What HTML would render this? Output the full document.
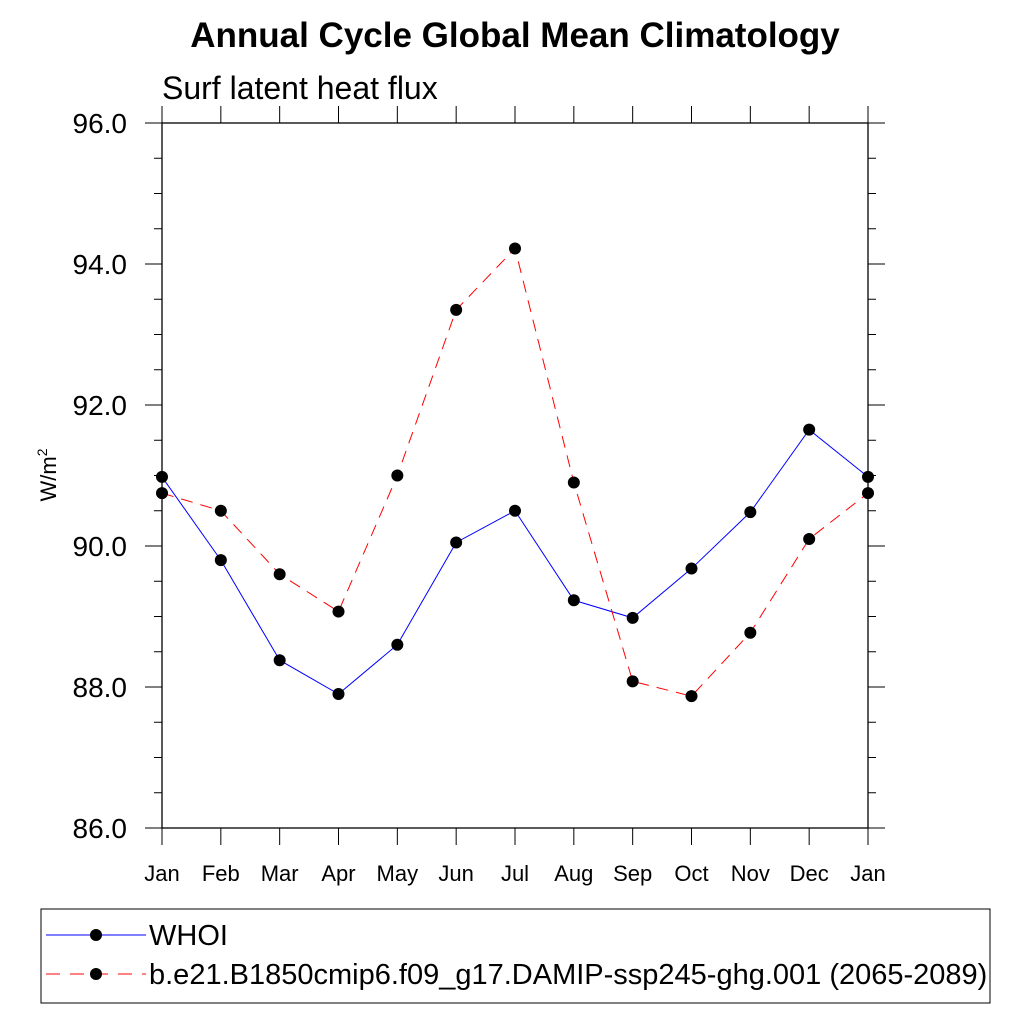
<!DOCTYPE html>
<html><head><meta charset="utf-8"><style>
html,body{margin:0;padding:0;background:#fff;}
svg text{font-family:"Liberation Sans",sans-serif;}
</style></head><body>
<svg id="c" width="1024" height="1024" xmlns="http://www.w3.org/2000/svg">
<text x="515" y="47" text-anchor="middle" font-size="35" font-weight="bold">Annual Cycle Global Mean Climatology</text>
<text x="162" y="99" font-size="32">Surf latent heat flux</text>
<text transform="translate(56,475) rotate(-90)" text-anchor="middle" font-size="22">W/m<tspan dy="-9" font-size="14">2</tspan></text>
<g id="axes"></g><g id="series"></g>
<rect x="41" y="909" width="949" height="94" fill="none" stroke="#000" stroke-width="1"/>
<g>
<line x1="46" y1="935" x2="146" y2="935" stroke="#00f" stroke-width="1"/>
<circle cx="96" cy="935" r="6" fill="#000"/>
<text x="149" y="945" font-size="29">WHOI</text></g>
<g>
<line x1="46" y1="974" x2="146" y2="974" stroke="#f00" stroke-width="1" stroke-dasharray="14,10"/>
<circle cx="96" cy="974" r="6" fill="#000"/>
<text x="149" y="984" font-size="29">b.e21.B1850cmip6.f09_g17.DAMIP-ssp245-ghg.001 (2065-2089)</text></g>
</svg>
<script>
const months=["Jan","Feb","Mar","Apr","May","Jun","Jul","Aug","Sep","Oct","Nov","Dec","Jan"];
const whoi=[90.98,89.8,88.38,87.9,88.6,90.05,90.5,89.23,88.98,89.68,90.48,91.65,90.98];
const damip=[90.75,90.5,89.6,89.07,91.0,93.35,94.22,90.9,88.08,87.87,88.77,90.1,90.75];
const yTicks=[86,88,90,92,94,96];
const NS="http://www.w3.org/2000/svg";
const L=162,R=868,T=123,B=828;
const xs=i=>L+(R-L)*i/12;
const ys=v=>B-(v-86)/10*(B-T);
function mk(p,tag,a){const e=document.createElementNS(NS,tag);for(const k in a)e.setAttribute(k,a[k]);p.appendChild(e);return e;}
const ax=document.getElementById('axes');
const fr=mk(ax,'rect',{x:L,y:T,width:R-L,height:B-T,fill:'none',stroke:'#000','stroke-width':1.3});


months.forEach((m,i)=>{
 mk(ax,'line',{x1:xs(i),x2:xs(i),y1:B,y2:B+17,stroke:'#000'});
 mk(ax,'line',{x1:xs(i),x2:xs(i),y1:T,y2:T-17,stroke:'#000'});
 const t=mk(ax,'text',{x:xs(i),y:B+53,'text-anchor':'middle','font-size':22});t.textContent=m;
 
 
});
for(let v=86;v<=96.001;v+=0.5){
 const major=Math.abs(v-Math.round(v/2)*2)<1e-6;const len=major?17:8;
 mk(ax,'line',{x1:L,x2:L-len,y1:ys(v),y2:ys(v),stroke:'#000'});
 mk(ax,'line',{x1:R,x2:R+len,y1:ys(v),y2:ys(v),stroke:'#000'});
}
yTicks.forEach(v=>{const t=mk(ax,'text',{x:L-35,y:ys(v)+10,'text-anchor':'end','font-size':28});t.textContent=v.toFixed(1);
 
 });
const sg=document.getElementById('series');
function series(d,col,dash,name){
 const g=mk(sg,'g',{});
 
 
 mk(g,'polyline',{points:d.map((v,i)=>xs(i)+','+ys(v)).join(' '),fill:'none',stroke:col,'stroke-width':1,'stroke-dasharray':dash});
 d.forEach((v,i)=>mk(g,'circle',{cx:xs(i),cy:ys(v),r:6,fill:'#000'}));
}
series(whoi,'#00f','none','whoi-series');
series(damip,'#f00','12,8','damip-series');
</script>
</body></html>
